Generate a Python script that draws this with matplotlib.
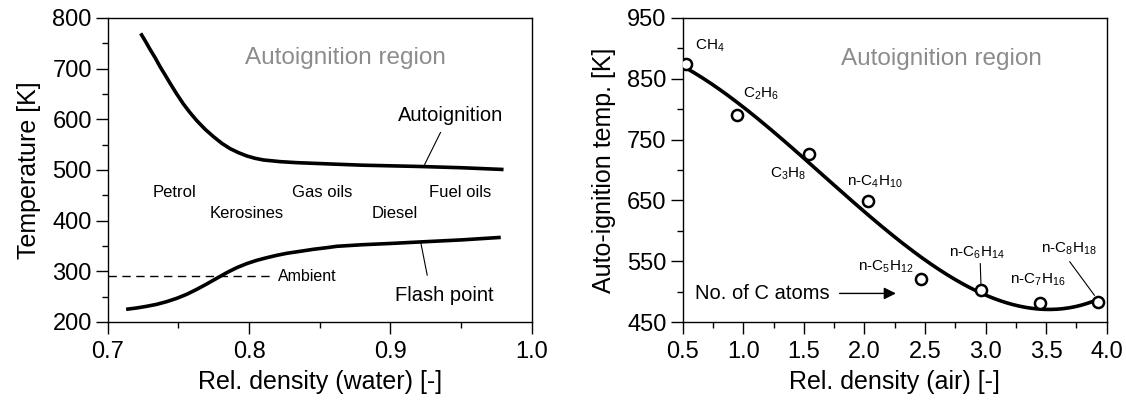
import numpy as np
import matplotlib.pyplot as plt

plt.rcParams['font.family'] = ['Liberation Sans', 'DejaVu Sans']
plt.rcParams['mathtext.fontset'] = 'custom'
plt.rcParams['mathtext.rm'] = 'Liberation Sans'
plt.rcParams['mathtext.it'] = 'Liberation Sans'

# Left panel: petroleum fractions
auto_density = [0.7233, 0.7264, 0.7299, 0.7335, 0.7370, 0.7406, 0.7441, 0.7488,
                0.7535, 0.7582, 0.7630, 0.7689, 0.7748, 0.7807, 0.7866, 0.7925,
                0.7984, 0.8042, 0.8101, 0.8219, 0.8337, 0.8455, 0.8573, 0.88,
                0.92, 0.95, 0.98]
auto_temp = [769.7, 755.3, 738.2, 721.7, 703.9, 687.5, 671.1, 650.0,
             630.3, 613.2, 597.4, 580.3, 565.8, 552.6, 542.1, 534.2,
             527.7, 523.1, 519.8, 516.5, 514.5, 513.2, 511.9, 509.5,
             507.0, 504.5, 501.0]

flash_density = [0.7130, 0.7205, 0.7276, 0.7347, 0.7417, 0.7488, 0.7559, 0.7630,
                 0.7700, 0.7771, 0.7842, 0.7913, 0.7983, 0.8054, 0.8126, 0.8196,
                 0.8267, 0.8361, 0.8455, 0.8550, 0.8620, 0.88, 0.90, 0.921,
                 0.95, 0.978]
flash_temp = [225.0, 227.7, 231.0, 234.9, 240.2, 246.7, 254.7, 264.5,
              275.0, 286.2, 297.4, 307.3, 315.2, 321.7, 327.0, 331.6,
              335.6, 339.5, 343.5, 346.7, 349.4, 352.5, 355.0, 358.0,
              362.0, 367.0]

ambient_temp = 290
ambient_end = 0.816

fractions = ['Petrol', 'Kerosines', 'Gas oils', 'Diesel', 'Fuel oils']
fraction_x = [0.747, 0.7985, 0.852, 0.9028, 0.949]
fraction_y = [456, 414, 456, 414, 456]

# Right panel: n-alkanes
alkanes = [r'CH$_4$', r'C$_2$H$_6$', r'C$_3$H$_8$', r'n-C$_4$H$_{10}$',
           r'n-C$_5$H$_{12}$', r'n-C$_6$H$_{14}$', r'n-C$_7$H$_{16}$',
           r'n-C$_8$H$_{18}$']
rel_density_air = [0.53, 0.95, 1.54, 2.03, 2.47, 2.96, 3.45, 3.93]
autoign_temp = [875, 791, 726, 649, 521, 503, 482, 483]
label_pos = [(0.724, 905), (1.143, 825), (1.367, 694), (2.085, 680),
             (2.178, 541), (2.93, 563), (3.43, 519), (3.69, 571)]

fig = plt.figure(figsize=(11.26, 4.0), dpi=100)
ax1 = fig.add_axes([0.0957, 0.195, 0.3766, 0.76])
ax2 = fig.add_axes([0.6063, 0.195, 0.3766, 0.76])

for ax in (ax1, ax2):
    for s in ax.spines.values():
        s.set_linewidth(1.0)
    ax.tick_params(which='major', direction='out', length=8.5, width=1.0,
                   labelsize=17)
    ax.tick_params(which='minor', direction='out', length=4, width=1.0)
    ax.tick_params(axis='x', which='major', pad=5)
    ax.tick_params(axis='y', which='major', pad=3)

# --- left panel ---
ax1.plot(auto_density, auto_temp, color='black', lw=2.6,
         solid_capstyle='butt', solid_joinstyle='round')
ax1.plot(flash_density, flash_temp, color='black', lw=2.6,
         solid_capstyle='butt', solid_joinstyle='round')
ax1.plot([0.7, ambient_end], [ambient_temp, ambient_temp], color='black',
         lw=1.0, dashes=(6, 4))
ax1.text(0.8205, ambient_temp, 'Ambient', fontsize=11.5, va='center', ha='left')

for name, x, y in zip(fractions, fraction_x, fraction_y):
    ax1.text(x, y, name, fontsize=12, ha='center', va='center')

ax1.text(0.868, 722, 'Autoignition region', fontsize=17.5, color='#8c8c8c',
         ha='center', va='center')
ax1.text(0.9424, 607, 'Autoignition', fontsize=14.5, ha='center', va='center')
ax1.plot([0.9354, 0.9242], [574, 511], color='black', lw=0.8)
ax1.text(0.938, 253, 'Flash point', fontsize=14.5, ha='center', va='center')
ax1.plot([0.926, 0.9215], [292.5, 356], color='black', lw=0.8)

ax1.set_xlim(0.7, 1.0)
ax1.set_ylim(200, 800)
ax1.set_xticks(np.arange(0.7, 1.01, 0.1))
ax1.set_xticks(np.arange(0.75, 1.0, 0.1), minor=True)
ax1.set_yticks(np.arange(200, 801, 100))
ax1.set_yticks(np.arange(250, 800, 100), minor=True)
ax1.set_xticklabels(['0.7', '0.8', '0.9', '1.0'])
ax1.set_xlabel('Rel. density (water) [-]', fontsize=18, labelpad=5)
ax1.set_ylabel('Temperature [K]', fontsize=18, labelpad=8)

# --- right panel ---
coef = np.polyfit(rel_density_air, autoign_temp, 3)
xfit = np.linspace(rel_density_air[0], rel_density_air[-1], 200)
ax2.plot(xfit, np.polyval(coef, xfit), color='black', lw=2.6)
ax2.plot(rel_density_air, autoign_temp, 'o', ms=8, mfc='white', mec='black',
         mew=1.8, zorder=3)

for name, (x, y) in zip(alkanes, label_pos):
    ax2.text(x, y, name, fontsize=11, ha='center', va='center')
ax2.plot([2.956, 2.962], [546, 511], color='black', lw=0.8)
ax2.plot([3.695, 3.898], [549, 494], color='black', lw=0.8)

ax2.text(2.633, 882, 'Autoignition region', fontsize=17.5, color='#8c8c8c',
         ha='center', va='center')
ax2.text(1.158, 497, 'No. of C atoms', fontsize=14.5, ha='center', va='center')
ax2.annotate('', xy=(2.26, 497), xytext=(1.795, 497),
             arrowprops=dict(arrowstyle='-|>', color='black', lw=1.0,
                             mutation_scale=18, shrinkA=0, shrinkB=0))

ax2.set_xlim(0.5, 4.0)
ax2.set_ylim(450, 950)
ax2.set_xticks(np.arange(0.5, 4.01, 0.5))
ax2.set_xticks(np.arange(0.75, 4.0, 0.5), minor=True)
ax2.set_yticks(np.arange(450, 951, 100))
ax2.set_yticks(np.arange(500, 950, 100), minor=True)
ax2.set_xticklabels([f'{v:.1f}' for v in np.arange(0.5, 4.01, 0.5)])
ax2.set_xlabel('Rel. density (air) [-]', fontsize=18, labelpad=5)
ax2.set_ylabel('Auto-ignition temp. [K]', fontsize=18, labelpad=8)

fig.savefig('out.png', dpi=100)
